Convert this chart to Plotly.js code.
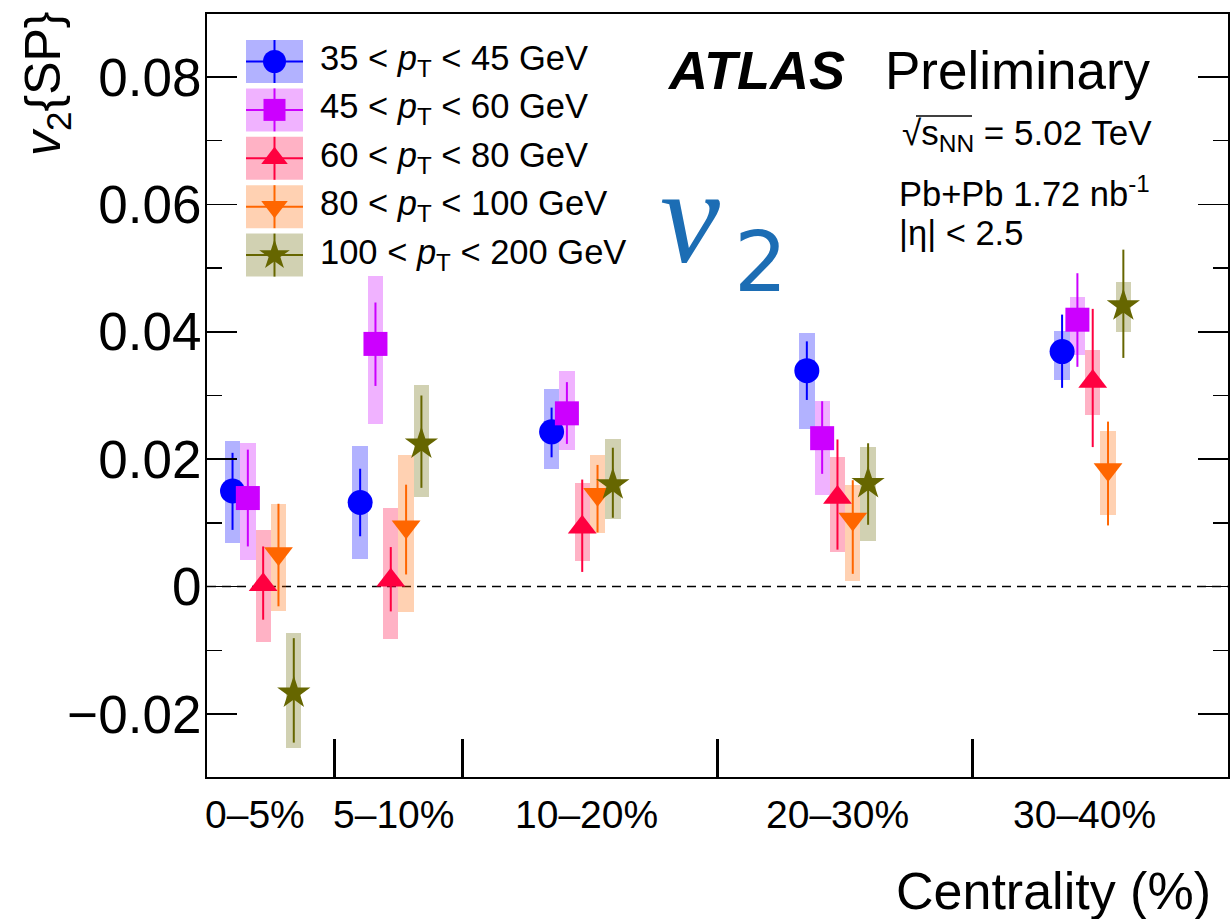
<!DOCTYPE html>
<html>
<head>
<meta charset="utf-8">
<script src="https://cdn.plot.ly/plotly-3.0.1.min.js"></script>
<style>html,body{margin:0;padding:0;background:#fff;}#chart{width:1230px;height:919px;}</style>
</head>
<body>
<div id="chart"></div>
<script>
// ---- data ----
const binLabels = ['0–5%', '5–10%', '10–20%', '20–30%', '30–40%'];
const binCenters = [2.5, 7.5, 15, 25, 35];

const seriesNames = ['35 &lt; <i>p</i><sub>T</sub> &lt; 45 GeV', '45 &lt; <i>p</i><sub>T</sub> &lt; 60 GeV',
  '60 &lt; <i>p</i><sub>T</sub> &lt; 80 GeV', '80 &lt; <i>p</i><sub>T</sub> &lt; 100 GeV', '100 &lt; <i>p</i><sub>T</sub> &lt; 200 GeV'];

const v2_35_45 = [0.0150, 0.0132, 0.0243, 0.0339, 0.0369];
const statHi_35_45 = [0.0210, 0.0185, 0.0281, 0.0385, 0.0427];
const statLo_35_45 = [0.0089, 0.0079, 0.0203, 0.0293, 0.0312];
const sysHi_35_45 = [0.0228, 0.0221, 0.0310, 0.0398, 0.0401];
const sysLo_35_45 = [0.0069, 0.0044, 0.0184, 0.0247, 0.0325];

const v2_45_60 = [0.0139, 0.0381, 0.0272, 0.0233, 0.0419];
const statHi_45_60 = [0.0215, 0.0446, 0.0321, 0.0291, 0.0492];
const statLo_45_60 = [0.0063, 0.0315, 0.0224, 0.0177, 0.0345];
const sysHi_45_60 = [0.0225, 0.0487, 0.0339, 0.0292, 0.0454];
const sysLo_45_60 = [0.0042, 0.0256, 0.0215, 0.0143, 0.0364];

const v2_60_80 = [0.0003, 0.0010, 0.0093, 0.0140, 0.0322];
const statHi_60_80 = [0.0063, 0.0062, 0.0168, 0.0231, 0.0436];
const statLo_60_80 = [-0.0052, -0.0039, 0.0023, 0.0058, 0.0219];
const sysHi_60_80 = [0.0089, 0.0123, 0.0162, 0.0203, 0.0371];
const sysLo_60_80 = [-0.0087, -0.0083, 0.0040, 0.0054, 0.0270];

const v2_80_100 = [0.0052, 0.0094, 0.0145, 0.0106, 0.0184];
const statHi_80_100 = [0.0130, 0.0160, 0.0191, 0.0167, 0.0259];
const statLo_80_100 = [-0.0031, 0.0019, 0.0085, 0.0020, 0.0096];
const sysHi_80_100 = [0.0130, 0.0206, 0.0206, 0.0160, 0.0245];
const sysLo_80_100 = [-0.0039, -0.0040, 0.0084, 0.0008, 0.0113];

const v2_100_200 = [-0.0167, 0.0224, 0.0160, 0.0162, 0.0441];
const statHi_100_200 = [-0.0081, 0.0300, 0.0218, 0.0225, 0.0529];
const statLo_100_200 = [-0.0245, 0.0155, 0.0108, 0.0097, 0.0359];
const sysHi_100_200 = [-0.0073, 0.0316, 0.0231, 0.0219, 0.0479];
const sysLo_100_200 = [-0.0253, 0.0140, 0.0106, 0.0071, 0.0399];

const yTickVals = [-0.02, 0, 0.02, 0.04, 0.06, 0.08];
const yTickText = ['\u22120.02', '0', '0.02', '0.04', '0.06', '0.08'];

// ---- styling ----
const seriesData = [
  {v: v2_35_45, sh: statHi_35_45, sl: statLo_35_45, yh: sysHi_35_45, yl: sysLo_35_45},
  {v: v2_45_60, sh: statHi_45_60, sl: statLo_45_60, yh: sysHi_45_60, yl: sysLo_45_60},
  {v: v2_60_80, sh: statHi_60_80, sl: statLo_60_80, yh: sysHi_60_80, yl: sysLo_60_80},
  {v: v2_80_100, sh: statHi_80_100, sl: statLo_80_100, yh: sysHi_80_100, yl: sysLo_80_100},
  {v: v2_100_200, sh: statHi_100_200, sl: statLo_100_200, yh: sysHi_100_200, yl: sysLo_100_200}
];
const colors = ['rgb(0,0,255)', 'rgb(204,0,255)', 'rgb(255,0,64)', 'rgb(255,102,0)', 'rgb(102,102,0)'];
const fills = ['rgba(0,0,255,0.3)', 'rgba(204,0,255,0.3)', 'rgba(255,0,64,0.3)', 'rgba(255,102,0,0.3)', 'rgba(102,102,0,0.3)'];
const symbols = ['circle', 'square', 'triangle-up', 'triangle-down', 'star'];
const sizes = [25, 24, 25, 25, 25];
const boxW = 0.6;
const offsetStart = -1.5;

const FONT = 'Liberation Sans, Arial, Helvetica, sans-serif';

// pixel -> paper helpers for decoration placement
const L = 207, R = 1228, T = 14, B = 777;
const px = v => (v - L) / (R - L);
const py = v => (B - v) / (B - T);

const traces = [];
// systematic boxes
seriesData.forEach((s, i) => {
  const xs = binCenters.map(c => c + offsetStart + boxW * i);
  traces.push({
    type: 'bar', x: xs, base: s.yl, y: s.yh.map((h, j) => h - s.yl[j]),
    width: xs.map(() => boxW), marker: {color: fills[i], line: {width: 0}},
    showlegend: false, hoverinfo: 'skip'
  });
});
// points with stat errors
seriesData.forEach((s, i) => {
  const xs = binCenters.map(c => c + offsetStart + boxW * i);
  traces.push({
    type: 'scatter', mode: 'markers', x: xs, y: s.v,
    marker: {symbol: symbols[i], size: sizes[i], color: colors[i], line: {width: 0}},
    error_y: {type: 'data', symmetric: false,
      array: s.sh.map((h, j) => h - s.v[j]), arrayminus: s.v.map((v, j) => v - s.sl[j]),
      color: colors[i], thickness: 2, width: 0},
    showlegend: false, cliponaxis: false
  });
});

// custom legend
const legX0 = 246, legX1 = 303, legRow0 = 61.5, legStep = 48.4, legHalfH = 21.5;
const shapes = [];
seriesData.forEach((s, i) => {
  const cy = legRow0 + legStep * i;
  shapes.push({type: 'rect', xref: 'paper', yref: 'paper', x0: px(legX0), x1: px(legX1),
    y0: py(cy - legHalfH), y1: py(cy + legHalfH), fillcolor: fills[i], line: {width: 0}});
  shapes.push({type: 'line', xref: 'paper', yref: 'paper', x0: px(legX0), x1: px(legX1),
    y0: py(cy), y1: py(cy), line: {color: colors[i], width: 2}});
  shapes.push({type: 'line', xref: 'paper', yref: 'paper', x0: px((legX0 + legX1) / 2), x1: px((legX0 + legX1) / 2),
    y0: py(cy - legHalfH), y1: py(cy + legHalfH), line: {color: colors[i], width: 2}});
});
seriesData.forEach((s, i) => {
  const cy = legRow0 + legStep * i;
  traces.push({type: 'scatter', mode: 'markers', xaxis: 'x2', yaxis: 'y2',
    x: [px((legX0 + legX1) / 2)], y: [py(cy)],
    marker: {symbol: symbols[i], size: sizes[i] - 2, color: colors[i]}, showlegend: false, cliponaxis: false, hoverinfo: 'skip'});
});

// zero dashed line
shapes.push({type: 'line', xref: 'paper', yref: 'y', x0: 0, x1: 1, y0: 0, y1: 0, layer: 'below',
  line: {color: 'black', width: 1.5, dash: '9px,6px'}});
// sqrt overline
shapes.push({type: 'line', xref: 'paper', yref: 'paper', x0: px(916), x1: px(972), y0: py(116), y1: py(116),
  line: {color: 'black', width: 1.5}});

const annotations = [];
const labelPx = [255, 393, 586, 837, 1084];
binLabels.forEach((t, i) => {
  annotations.push({text: t, xref: 'paper', yref: 'paper', x: px(labelPx[i]), y: py(814),
    xanchor: 'center', yanchor: 'middle', showarrow: false, font: {family: FONT, size: 39, color: 'black'}});
});
seriesNames.forEach((t, i) => {
  const cy = legRow0 + legStep * i;
  annotations.push({text: t, xref: 'paper', yref: 'paper', x: px(318), y: py(cy - 1),
    xanchor: 'left', yanchor: 'middle', showarrow: false, font: {family: FONT, size: 34.5, color: 'black'}});
});
annotations.push(
  {text: 'Centrality (%)', xref: 'paper', yref: 'paper', x: px(1213), y: py(891), xanchor: 'right', yanchor: 'middle',
    showarrow: false, font: {family: FONT, size: 52, color: 'black'}},
  {text: '<i>v</i><sub>2</sub>{SP}', xref: 'paper', yref: 'paper', x: px(46), y: py(84), xanchor: 'center', yanchor: 'middle',
    textangle: -90, showarrow: false, font: {family: FONT, size: 50, color: 'black'}},
  {text: '<b><i>ATLAS</i></b>', xref: 'paper', yref: 'paper', x: px(665), y: py(70), xanchor: 'left', yanchor: 'middle',
    showarrow: false, font: {family: FONT, size: 54, color: 'black'}},
  {text: 'Preliminary', xref: 'paper', yref: 'paper', x: px(883), y: py(70), xanchor: 'left', yanchor: 'middle',
    showarrow: false, font: {family: FONT, size: 53, color: 'black'}},
  {text: '\u221As<sub>NN</sub> = 5.02 TeV', xref: 'paper', yref: 'paper', x: px(900), y: py(135), xanchor: 'left', yanchor: 'middle',
    showarrow: false, font: {family: FONT, size: 35, color: 'black'}},
  {text: 'Pb+Pb 1.72 nb<sup>-1</sup>', xref: 'paper', yref: 'paper', x: px(897), y: py(191), xanchor: 'left', yanchor: 'middle',
    showarrow: false, font: {family: FONT, size: 34.5, color: 'black'}},
  {text: '|\u03B7| &lt; 2.5', xref: 'paper', yref: 'paper', x: px(897), y: py(233), xanchor: 'left', yanchor: 'middle',
    showarrow: false, font: {family: FONT, size: 34.5, color: 'black'}},
  {text: '<i>v</i>', xref: 'paper', yref: 'paper', x: px(658), y: py(216), xanchor: 'left', yanchor: 'middle',
    showarrow: false, font: {family: 'Liberation Serif, DejaVu Serif, serif', size: 135, color: '#1c6db4'}},
  {text: '2', xref: 'paper', yref: 'paper', x: px(732), y: py(262), xanchor: 'left', yanchor: 'middle',
    showarrow: false, font: {family: 'DejaVu Sans, sans-serif', size: 84, color: '#1c6db4'}}
);

const layout = {
  width: 1230, height: 919,
  margin: {l: L, r: 1230 - R, t: T, b: 919 - B, pad: 0},
  paper_bgcolor: 'white', plot_bgcolor: 'white',
  showlegend: false, barmode: 'overlay', bargap: 0,
  font: {family: FONT, color: 'black'},
  xaxis: {range: [0, 40], showgrid: false, zeroline: false, showline: true, linecolor: 'black', linewidth: 2,
    mirror: true, tickmode: 'array', tickvals: [5, 10, 20, 30], ticks: 'inside', ticklen: 38, tickwidth: 3,
    tickcolor: 'black', showticklabels: false, fixedrange: true},
  yaxis: {range: [-0.0299, 0.0899], showgrid: false, zeroline: false, showline: true, linecolor: 'black', linewidth: 2,
    mirror: 'ticks', tickmode: 'array', tickvals: yTickVals, ticktext: yTickText, ticks: 'inside', ticklen: 30,
    tickwidth: 1.5, tickcolor: 'black', tickfont: {family: FONT, size: 53, color: 'black'}, ticklabelstandoff: -7,
    minor: {tick0: 0, dtick: 0.01, ticks: 'inside', ticklen: 15, tickwidth: 1.5, tickcolor: 'black', showgrid: false},
    fixedrange: true},
  xaxis2: {overlaying: 'x', range: [0, 1], visible: false, fixedrange: true},
  yaxis2: {overlaying: 'y', range: [0, 1], visible: false, fixedrange: true},
  shapes: shapes,
  annotations: annotations
};

Plotly.newPlot('chart', traces, layout, {displayModeBar: false, staticPlot: true});
</script>
</body>
</html>
